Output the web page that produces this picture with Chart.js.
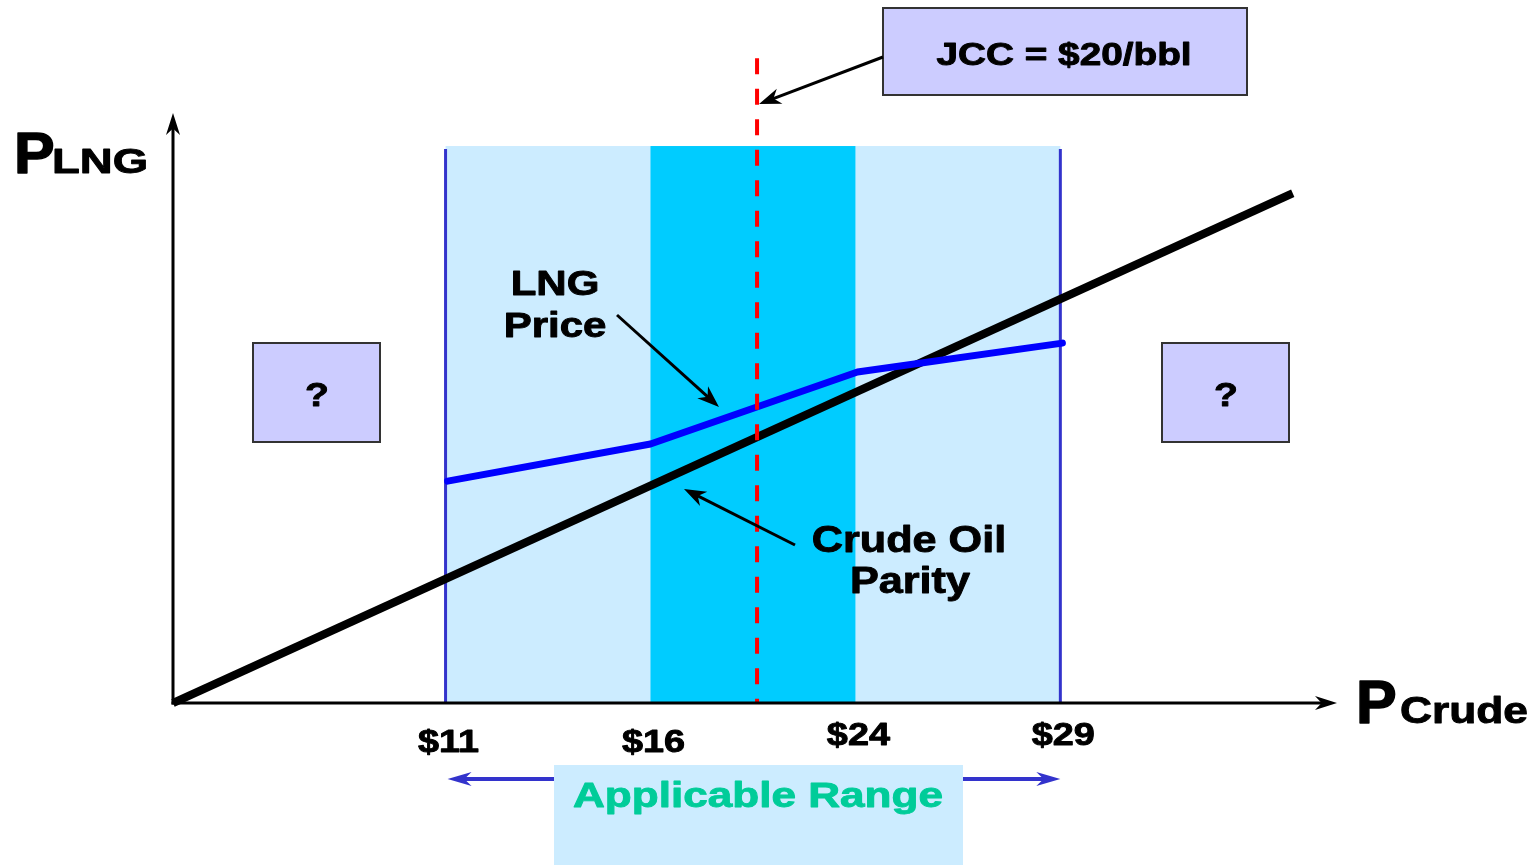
<!DOCTYPE html>
<html>
<head>
<meta charset="utf-8">
<title>LNG price vs crude price</title>
<script src="https://cdn.jsdelivr.net/npm/chart.js@4/dist/chart.umd.min.js"></script>
<style>
  html, body { margin: 0; padding: 0; background: #ffffff; }
  canvas { display: block; }
</style>
</head>
<body>
<canvas id="chart" width="1538" height="865"></canvas>
<script>
// Horizontal axis positions: 0 = $11, 1 = $16, 2 = $24, 3 = $29 (schematic spacing)
const priceTicks = [0, 1, 2, 3];
const priceLabels = ['$11', '$16', '$24', '$29'];

// Applicable range (outer) and core band, in axis positions
const applicableRange = [0, 3];
const coreRange = [1, 2];
const bandTop = 94.4;

// JCC marker
const jccPosition = 1.52;
const jccTop = 109.3;
const jccLabel = 'JCC = $20/bbl';

// Crude oil parity line
const parityX = [-1.33, 4.134];
const parityY = [0, 86.4];

// LNG price curve
const lngX = [0.01, 1, 2.01, 3.01];
const lngY = [37.6, 43.9, 56.1, 61.0];

const FONT = '"Liberation Sans", Arial, Helvetica, sans-serif';
const STRETCH = 1.25;

function drawText(ctx, str, x, y, size, opts = {}) {
  const color = opts.color || '#000000';
  ctx.save();
  ctx.translate(x, y);
  ctx.scale(opts.stretch ?? STRETCH, 1);
  ctx.font = `bold ${size}px ${FONT}`;
  ctx.textAlign = opts.align || 'center';
  ctx.textBaseline = 'alphabetic';
  ctx.fillStyle = color;
  ctx.fillText(str, 0, 0);
  // slightly heavier strokes
  ctx.strokeStyle = color;
  ctx.lineWidth = opts.weight ?? 0.9;
  ctx.lineJoin = 'round';
  ctx.strokeText(str, 0, 0);
  ctx.restore();
}

function drawArrow(ctx, x1, y1, x2, y2, color, width, headLen, headHalf) {
  const ang = Math.atan2(y2 - y1, x2 - x1);
  const c = Math.cos(ang), s = Math.sin(ang);
  ctx.save();
  ctx.strokeStyle = color;
  ctx.lineWidth = width;
  ctx.lineCap = 'butt';
  ctx.beginPath();
  ctx.moveTo(x1, y1);
  ctx.lineTo(x2 - c * headLen * 0.6, y2 - s * headLen * 0.6);
  ctx.stroke();
  const bx = x2 - c * headLen, by = y2 - s * headLen;
  const nx = -s, ny = c;
  ctx.fillStyle = color;
  ctx.beginPath();
  ctx.moveTo(x2, y2);
  ctx.lineTo(bx + nx * headHalf, by + ny * headHalf);
  ctx.lineTo(x2 - c * headLen * 0.7, y2 - s * headLen * 0.7);
  ctx.lineTo(bx - nx * headHalf, by - ny * headHalf);
  ctx.closePath();
  ctx.fill();
  ctx.restore();
}

function drawBox(ctx, x, y, w, h, fill, stroke) {
  ctx.save();
  ctx.fillStyle = fill;
  ctx.fillRect(x, y, w, h);
  if (stroke) {
    ctx.strokeStyle = stroke;
    ctx.lineWidth = 2;
    ctx.strokeRect(x, y, w, h);
  }
  ctx.restore();
}

const diagram = {
  id: 'diagram',
  beforeDatasetsDraw(chart) {
    const { ctx, scales: { x, y } } = chart;
    const top = y.getPixelForValue(bandTop);
    const bottom = y.getPixelForValue(0);
    ctx.save();
    // applicable range band
    const a0 = x.getPixelForValue(applicableRange[0]);
    const a1 = x.getPixelForValue(applicableRange[1]);
    ctx.fillStyle = '#ccecff';
    ctx.fillRect(a0, top, a1 - a0, bottom - top);
    // core band
    const c0 = x.getPixelForValue(coreRange[0]);
    const c1 = x.getPixelForValue(coreRange[1]);
    ctx.fillStyle = '#00ccff';
    ctx.fillRect(c0, top, c1 - c0, bottom - top);
    // range edges
    ctx.strokeStyle = '#3333cc';
    ctx.lineWidth = 3;
    [a0, a1].forEach(px => {
      ctx.beginPath();
      ctx.moveTo(px, top + 3);
      ctx.lineTo(px, bottom);
      ctx.stroke();
    });
    ctx.restore();
  },
  afterDatasetsDraw(chart) {
    const { ctx, scales: { x, y }, chartArea } = chart;
    const ox = chartArea.left, oy = chartArea.bottom;

    // JCC dashed marker
    const jx = x.getPixelForValue(jccPosition);
    ctx.save();
    ctx.strokeStyle = '#ff0000';
    ctx.lineWidth = 4;
    ctx.setLineDash([16, 14.5]);
    ctx.beginPath();
    ctx.moveTo(jx, y.getPixelForValue(jccTop));
    ctx.lineTo(jx, oy);
    ctx.stroke();
    ctx.restore();

    // axes
    drawArrow(ctx, ox, oy + 1.5, ox, chartArea.top, '#000000', 3, 22, 7);
    drawArrow(ctx, ox - 1.5, oy, chartArea.right, oy, '#000000', 3, 22, 7);

    // axis titles
    drawText(ctx, 'P', 14, 173, 58, { align: 'left', stretch: 1.05, weight: 1.5 });
    drawText(ctx, 'LNG', 52, 173, 35, { align: 'left', stretch: 1.3 });
    drawText(ctx, 'P', 1356, 723, 61, { align: 'left', stretch: 1.0, weight: 1.5 });
    drawText(ctx, 'Crude', 1400, 723, 36, { align: 'left', stretch: 1.23 });

    // tick labels
    const tickBase = [752, 752, 745, 745];
    priceTicks.forEach((t, i) => {
      drawText(ctx, priceLabels[i], x.getPixelForValue(t) + 3, tickBase[i], 31, { stretch: 1.22 });
    });

    // JCC call-out
    drawBox(ctx, 883, 8, 364, 87, '#ccccff', '#333333');
    drawText(ctx, jccLabel, 1064, 65, 31);
    drawArrow(ctx, 883, 57, jx + 2, 104, '#000000', 3, 22, 8);

    // unknown regions
    drawBox(ctx, 253, 343, 127, 99, '#ccccff', '#333333');
    drawText(ctx, '?', 317, 406, 34, { stretch: 1.15 });
    drawBox(ctx, 1162, 343, 127, 99, '#ccccff', '#333333');
    drawText(ctx, '?', 1226, 406, 34, { stretch: 1.15 });

    // series call-outs
    drawText(ctx, 'LNG', 555, 295, 35, { stretch: 1.2 });
    drawText(ctx, 'Price', 555, 337, 35, { stretch: 1.2 });
    drawArrow(ctx, 617, 315, 719, 407, '#000000', 3, 22, 8);

    drawText(ctx, 'Crude Oil', 909, 552, 36, { stretch: 1.2 });
    drawText(ctx, 'Parity', 910, 593, 36, { stretch: 1.2 });
    drawArrow(ctx, 795, 545, 684, 489, '#000000', 3, 22, 8);

    // applicable range legend
    const a0 = x.getPixelForValue(applicableRange[0]);
    const a1 = x.getPixelForValue(applicableRange[1]);
    drawArrow(ctx, 556, 779, a0 + 2, 779, '#3333cc', 4, 24, 7);
    drawArrow(ctx, 961, 779, a1, 779, '#3333cc', 4, 24, 7);
    drawBox(ctx, 554, 765, 409, 100, '#ccecff', null);
    drawText(ctx, 'Applicable Range', 758, 807, 35, { color: '#00cc99', stretch: 1.26 });
  }
};

new Chart(document.getElementById('chart'), {
  type: 'line',
  data: {
    datasets: [
      {
        label: 'LNG Price',
        data: lngX.map((v, i) => ({ x: v, y: lngY[i] })),
        borderColor: '#0000ff',
        borderWidth: 7,
        borderCapStyle: 'round',
        borderJoinStyle: 'round',
        pointRadius: 0,
        tension: 0,
        clip: false,
        order: 0
      },
      {
        label: 'Crude Oil Parity',
        data: parityX.map((v, i) => ({ x: v, y: parityY[i] })),
        borderColor: '#000000',
        borderWidth: 8,
        borderCapStyle: 'butt',
        pointRadius: 0,
        tension: 0,
        clip: false,
        order: 1
      }
    ]
  },
  options: {
    responsive: false,
    animation: false,
    devicePixelRatio: 1,
    layout: { padding: { left: 173, right: 201, top: 113, bottom: 162 } },
    scales: {
      x: { type: 'linear', min: -1.33, max: 4.35, display: false },
      y: { type: 'linear', min: 0, max: 100, display: false }
    },
    plugins: {
      legend: { display: false },
      tooltip: { enabled: false }
    }
  },
  plugins: [diagram]
});
</script>
</body>
</html>
